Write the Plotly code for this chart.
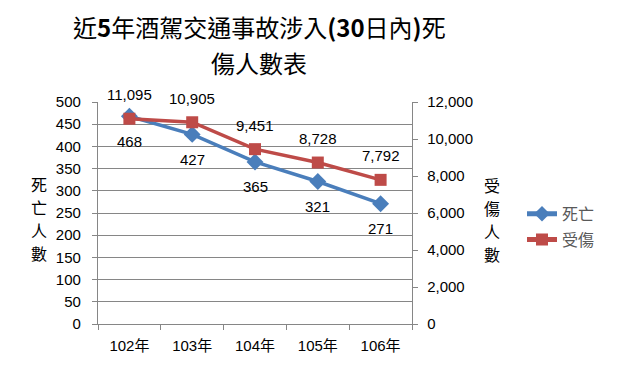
import plotly.graph_objects as go

years = ["102年", "103年", "104年", "105年", "106年"]
deaths = [468, 427, 365, 321, 271]
injuries = [11095, 10905, 9451, 8728, 7792]
death_name = "死亡"
injury_name = "受傷"
title_lines = ["近<b>5</b>年酒駕交通事故涉入<b>(30</b>日內<b>)</b>死", "傷人數表"]
left_title = "死亡人數"
right_title = "受傷人數"
left_ticks = list(range(0, 501, 50))
right_ticks = list(range(0, 12001, 2000))

BLUE = "#4A7EBB"
RED = "#BE4B48"
GRID = "#868686"
NUMFONT = "Liberation Sans, Noto Sans CJK TC"
CJK = "Noto Sans CJK TC"

# page is rendered with an 8px body margin; figure shrunk and shifted accordingly
OFF = 8
PW = 314.0
PH = 227.0
def px(xp):
    return (xp - 98) / PW
def py(yp):
    return (329 - yp) / PH

fig = go.Figure()
fig.add_trace(go.Scatter(
    x=years, y=deaths, name=death_name, mode="lines+markers",
    line=dict(color=BLUE, width=3.5),
    marker=dict(symbol="diamond", size=13, color=BLUE),
    legendgroup="a", yaxis="y",
))
fig.add_trace(go.Scatter(
    x=years, y=injuries, name=injury_name, mode="lines+markers",
    line=dict(color=RED, width=3.5),
    marker=dict(symbol="square", size=12, color=RED),
    legendgroup="b", yaxis="y2",
))

annotations = []
for x, v in zip(years, deaths):
    annotations.append(dict(x=x, y=v, xref="x", yref="y", text=f"{v:,}",
                            showarrow=False, yshift=-25,
                            font=dict(family=NUMFONT, size=15, color="#000")))
for x, v in zip(years, injuries):
    annotations.append(dict(x=x, y=v, xref="x", yref="y2", text=f"{v:,}",
                            showarrow=False, yshift=24,
                            font=dict(family=NUMFONT, size=15, color="#000")))

annotations.append(dict(x=px(259), y=py(25), xref="paper", yref="paper", text=title_lines[0],
                        showarrow=False, xanchor="center", yanchor="middle",
                        font=dict(family=CJK, size=24, color="#000")))
annotations.append(dict(x=px(259), y=py(62), xref="paper", yref="paper", text=title_lines[1],
                        showarrow=False, xanchor="center", yanchor="middle",
                        font=dict(family=CJK, size=24, color="#000")))
for i, ch in enumerate(left_title):
    annotations.append(dict(x=px(39), y=py(186 + 23.5 * i), xref="paper", yref="paper",
                            text=ch, showarrow=False, xanchor="center", yanchor="middle",
                            font=dict(family=CJK, size=16, color="#000")))
for i, ch in enumerate(right_title):
    annotations.append(dict(x=px(492), y=py(187 + 23.5 * i), xref="paper", yref="paper",
                            text=ch, showarrow=False, xanchor="center", yanchor="middle",
                            font=dict(family=CJK, size=16, color="#000")))

fig.update_layout(
    width=630 - OFF, height=366 - OFF,
    margin=dict(l=98 - OFF, r=630 - 412, t=102 - OFF, b=366 - 329, pad=0),
    paper_bgcolor="white", plot_bgcolor="white",
    showlegend=True,
    legend=dict(x=px(522), y=py(199), xanchor="left", yanchor="top",
                font=dict(family=CJK, size=16, color="#595959"),
                tracegroupgap=2, itemsizing="constant", bgcolor="rgba(0,0,0,0)"),
    annotations=annotations,
    xaxis=dict(type="category", range=[-0.5, 4.5], showgrid=False,
               showline=True, linecolor=GRID, linewidth=1.3,
               ticks="outside", ticklen=5, tickcolor=GRID, tickson="boundaries",
               ticklabelstandoff=8,
               tickfont=dict(family=NUMFONT, size=15, color="#000")),
    yaxis=dict(range=[0, 500], tickvals=left_ticks, showgrid=True, gridcolor=GRID,
               gridwidth=1.3, showline=True, linecolor=GRID, linewidth=1.3,
               ticks="outside", ticklen=5, tickcolor=GRID, zeroline=False,
               ticklabelstandoff=8,
               tickfont=dict(family=NUMFONT, size=15, color="#000")),
    yaxis2=dict(range=[0, 12000], tickvals=right_ticks, overlaying="y", side="right",
                showgrid=False, showline=True, linecolor=GRID, linewidth=1.3,
                ticks="outside", ticklen=5, tickcolor=GRID, zeroline=False,
                tickformat=",d", ticklabelstandoff=6,
                tickfont=dict(family=NUMFONT, size=15, color="#000")),
)

fig.write_html("out.html")
